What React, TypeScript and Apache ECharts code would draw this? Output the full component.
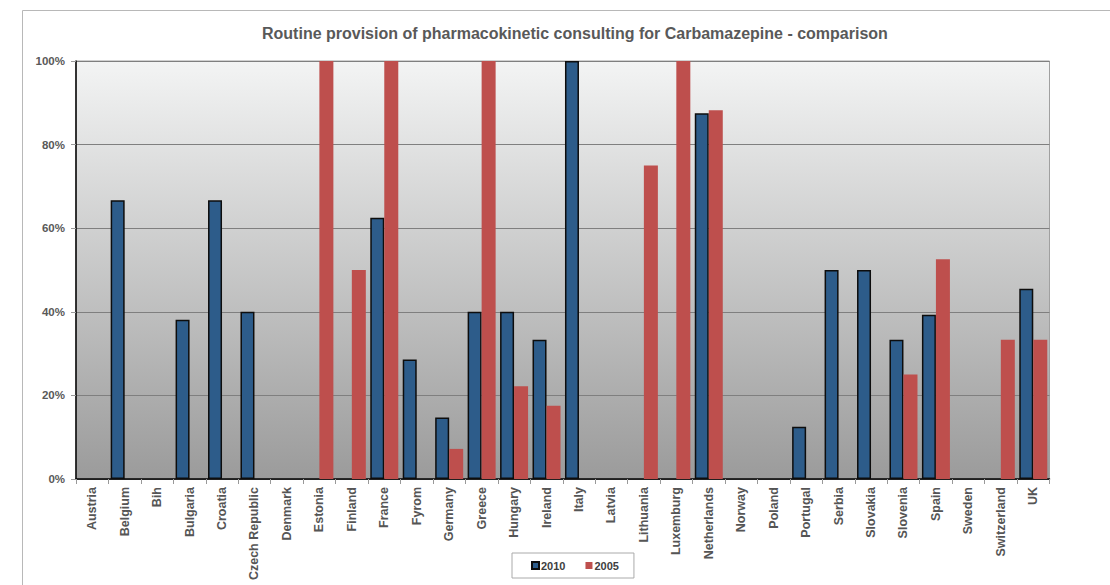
import React, { useEffect, useRef } from "react";
import * as echarts from "echarts";

const countries = [
  "Austria", "Belgium", "Bih", "Bulgaria", "Croatia", "Czech Republic", "Denmark", "Estonia",
  "Finland", "France", "Fyrom", "Germany", "Greece", "Hungary", "Ireland", "Italy", "Latvia",
  "Lithuania", "Luxemburg", "Netherlands", "Norway", "Poland", "Portugal", "Serbia", "Slovakia",
  "Slovenia", "Spain", "Sweden", "Switzerland", "UK",
];

const values2010 = [
  0, 0.667, 0, 0.381, 0.667, 0.4, 0, 0, 0, 0.625, 0.286, 0.147, 0.4, 0.4, 0.333, 1, 0, 0, 0,
  0.875, 0, 0, 0.125, 0.5, 0.5, 0.333, 0.393, 0, 0, 0.455,
];

const values2005 = [
  0, 0, 0, 0, 0, 0, 0, 1, 0.5, 1, 0, 0.072, 1, 0.222, 0.175, 0, 0, 0.75, 1, 0.882, 0, 0, 0, 0,
  0, 0.25, 0.526, 0, 0.333, 0.333,
];

const seriesNames = ["2010", "2005"];
const yTicks = [0, 0.2, 0.4, 0.6, 0.8, 1];

const FONT = 'Arial, "Liberation Sans", sans-serif';

export default function App() {
  const ref = useRef<HTMLDivElement>(null);

  useEffect(() => {
    if (!ref.current) return;
    const chart = echarts.init(ref.current, undefined, { renderer: "svg" });
    const toData = (arr: number[]) => arr.map((v) => (v === 0 ? null : v));
    chart.setOption({
      animation: false,
      backgroundColor: "#ffffff",
      title: {
        text: "Routine provision of pharmacokinetic consulting for Carbamazepine - comparison",
        left: 257,
        top: 20,
        textStyle: { fontFamily: FONT, fontSize: 16, fontWeight: "bold", color: "#595959" },
      },
      graphic: [
        {
          type: "rect",
          z: -10,
          silent: true,
          shape: { x: 22.5, y: 10.5, width: 1200, height: 700 },
          style: { fill: "none", stroke: "#b8b8b8", lineWidth: 1 },
        },
      ],
      legend: {
        left: 512,
        top: 553,
        orient: "horizontal",
        data: seriesNames,
        itemWidth: 7,
        itemHeight: 7,
        itemGap: 20,
        icon: "rect",
        padding: [7, 15, 7, 19],
        borderColor: "#aaaaaa",
        borderWidth: 1,
        textStyle: { fontFamily: FONT, fontSize: 11, fontWeight: "bold", color: "#404040", padding: [0, 0, 0, -3] },
      },
      grid: {
        left: 76,
        right: 60.5,
        top: 61,
        bottom: 106,
        show: true,
        borderColor: "#a0a0a0",
        borderWidth: 1,
        backgroundColor: new echarts.graphic.LinearGradient(0, 0, 0, 1, [
          { offset: 0, color: "#f3f4f4" },
          { offset: 1, color: "#9b9b9b" },
        ]),
      },
      xAxis: {
        type: "category",
        data: countries,
        axisLine: { show: true, lineStyle: { color: "#000000", width: 1.5 } },
        axisTick: { show: true, length: 5, lineStyle: { color: "#999999" } },
        axisLabel: {
          rotate: 90,
          interval: 0,
          margin: 8,
          fontFamily: FONT,
          fontSize: 12.5,
          fontWeight: "bold",
          color: "#555555",
        },
      },
      yAxis: {
        type: "value",
        min: 0,
        max: 1,
        interval: 0.2,
        axisLine: { show: true, lineStyle: { color: "#000000", width: 1.5 } },
        axisTick: { show: true, length: 5, lineStyle: { color: "#999999" } },
        splitLine: { show: true, lineStyle: { color: "#7f7f7f", width: 1 } },
        axisLabel: {
          margin: 11,
          fontFamily: FONT,
          fontSize: 11.5,
          fontWeight: "bold",
          color: "#595959",
          formatter: (v: number) => {
            const t = yTicks.find((x) => Math.abs(x - v) < 1e-6);
            return `${Math.round((t ?? v) * 100)}%`;
          },
        },
      },
      series: [
        {
          name: seriesNames[0],
          type: "bar",
          data: toData(values2010),
          barWidth: 14,
          barGap: "0%",
          itemStyle: { color: "#2d5c8a", borderColor: "#0d0d0d", borderWidth: 1.5 },
        },
        {
          name: seriesNames[1],
          type: "bar",
          data: toData(values2005),
          barWidth: 14,
          barGap: "0%",
          itemStyle: { color: "#be4f4d" },
        },
      ],
    });
    return () => chart.dispose();
  }, []);

  return (
    <div
      ref={ref}
      style={{ position: "fixed", left: 0, top: 0, width: 1110, height: 585 }}
    />
  );
}
